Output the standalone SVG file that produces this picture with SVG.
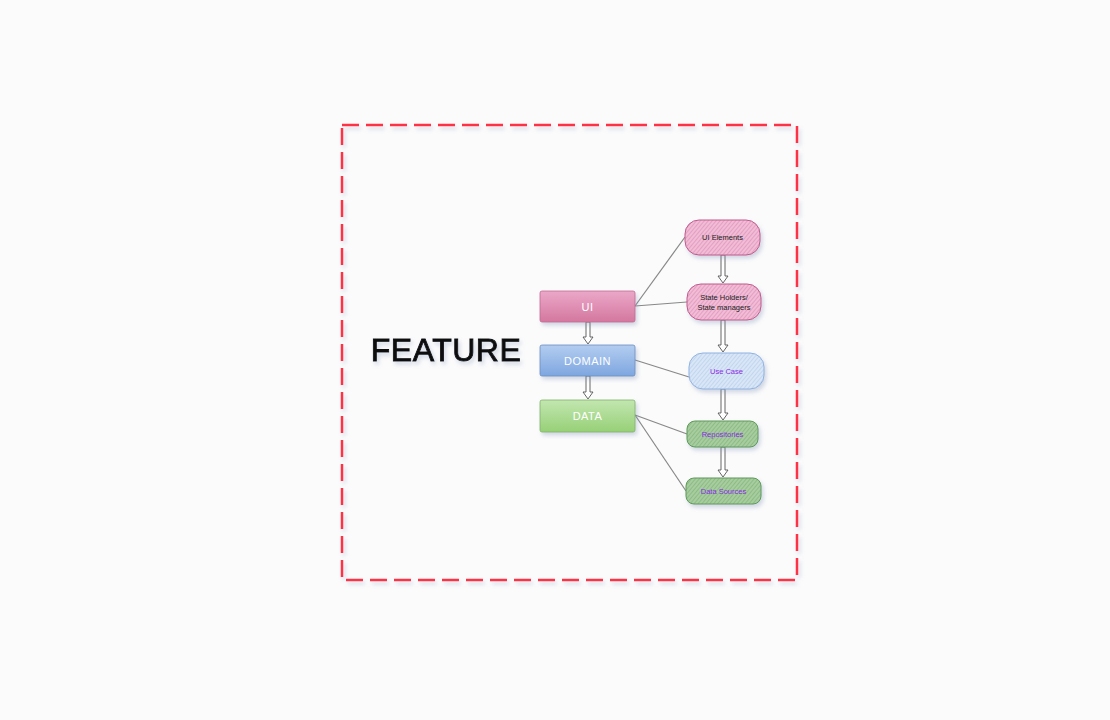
<svg xmlns="http://www.w3.org/2000/svg" width="1110" height="720" viewBox="0 0 1110 720">
<defs>
<style>
.lbl{font-family:"Liberation Sans",Arial,sans-serif;text-anchor:middle;dominant-baseline:central}
.wt{fill:#ffffff;font-size:11px;letter-spacing:0.5px}
.sm{font-size:7.5px}
.conn{stroke:#888;stroke-width:1.2;fill:none}
.barrow{fill:#ffffff;stroke:#555;stroke-width:0.9}
</style>
<filter id="sh" x="-20%" y="-20%" width="150%" height="160%">
<feDropShadow dx="2" dy="3" stdDeviation="2" flood-color="#8090b0" flood-opacity="0.35"/>
</filter>
<linearGradient id="gPink" x1="0" y1="0" x2="0" y2="1"><stop offset="0" stop-color="#eba8c8"/><stop offset="1" stop-color="#d4779f"/></linearGradient>
<linearGradient id="gBlue" x1="0" y1="0" x2="0" y2="1"><stop offset="0" stop-color="#b3cdf0"/><stop offset="1" stop-color="#7ea6e0"/></linearGradient>
<linearGradient id="gGreen" x1="0" y1="0" x2="0" y2="1"><stop offset="0" stop-color="#c2e6b0"/><stop offset="1" stop-color="#97d077"/></linearGradient>
<pattern id="hPink" width="3" height="3" patternUnits="userSpaceOnUse" patternTransform="rotate(40)"><rect width="3" height="3" fill="#f0bcd6"/><line x1="0" y1="0" x2="0" y2="3" stroke="#dc85b0" stroke-width="1.1"/></pattern>
<pattern id="hBlue" width="3" height="3" patternUnits="userSpaceOnUse" patternTransform="rotate(40)"><rect width="3" height="3" fill="#d9e6f6"/><line x1="0" y1="0" x2="0" y2="3" stroke="#b0c9ea" stroke-width="1.1"/></pattern>
<pattern id="hGreen" width="3" height="3" patternUnits="userSpaceOnUse" patternTransform="rotate(40)"><rect width="3" height="3" fill="#a6cd9e"/><line x1="0" y1="0" x2="0" y2="3" stroke="#7cab74" stroke-width="1.1"/></pattern>
</defs>
<rect width="1110" height="720" fill="#fbfbfc"/>

<g id="frame" filter="url(#sh)">
<rect x="342" y="125" width="455" height="455" fill="none" stroke="#ff3344" stroke-width="2.5" stroke-dasharray="17 7"/>
</g>

<g id="feature-title">
<text x="446" y="350" class="lbl" style="font-size:32px;letter-spacing:0.5px" fill="#111" stroke="#111" stroke-width="0.9" filter="url(#sh)">FEATURE</text>
</g>

<g id="connectors">
<path class="conn" d="M635 306 L685 237"/>
<path class="conn" d="M635 306 L687 302"/>
<path class="conn" d="M635 360 L689 377"/>
<path class="conn" d="M635 415 L687 434"/>
<path class="conn" d="M635 415 L686 491"/>
<path class="barrow" d="M586 322 h4 v15 h3 l-5 7 l-5 -7 h3 z"/>
<path class="barrow" d="M586 376 h4 v16 h3 l-5 7 l-5 -7 h3 z"/>
<path class="barrow" d="M721 255 h4 v21 h3 l-5 7 l-5 -7 h3 z"/>
<path class="barrow" d="M721 320 h4 v25 h3 l-5 7 l-5 -7 h3 z"/>
<path class="barrow" d="M721 389 h4 v24 h3 l-5 7 l-5 -7 h3 z"/>
<path class="barrow" d="M721 447 h4 v23 h3 l-5 7 l-5 -7 h3 z"/>
</g>

<g id="ui">
<rect x="540" y="291" width="95" height="31" rx="2" fill="url(#gPink)" stroke="#c26a92" stroke-width="0.8" filter="url(#sh)"/>
<text x="587.5" y="306.5" class="lbl wt">UI</text>
</g>
<g id="domain">
<rect x="540" y="345" width="95" height="31" rx="2" fill="url(#gBlue)" stroke="#6c8ebf" stroke-width="0.8" filter="url(#sh)"/>
<text x="587.5" y="360.5" class="lbl wt">DOMAIN</text>
</g>
<g id="data">
<rect x="540" y="400" width="95" height="32" rx="2" fill="url(#gGreen)" stroke="#82b366" stroke-width="0.8" filter="url(#sh)"/>
<text x="587.5" y="416" class="lbl wt">DATA</text>
</g>

<g id="ui-elements">
<rect x="685" y="220" width="75" height="35" rx="14" fill="url(#hPink)" stroke="#c05a8c" stroke-width="1" filter="url(#sh)"/>
<text x="722.5" y="237.5" class="lbl sm" fill="#222">UI Elements</text>
</g>
<g id="state-holders">
<rect x="687" y="284" width="74" height="36" rx="14" fill="url(#hPink)" stroke="#c05a8c" stroke-width="1" filter="url(#sh)"/>
<text x="724" y="297" class="lbl sm" fill="#222">State Holders/</text>
<text x="724" y="307" class="lbl sm" fill="#222">State managers</text>
</g>
<g id="use-case">
<rect x="689" y="353" width="75" height="36" rx="14" fill="url(#hBlue)" stroke="#8fb2e2" stroke-width="1" filter="url(#sh)"/>
<text x="726.5" y="371" class="lbl sm" fill="#8a2be2">Use Case</text>
</g>
<g id="repositories">
<rect x="687" y="421" width="71" height="26" rx="8" fill="url(#hGreen)" stroke="#5e9a58" stroke-width="1" filter="url(#sh)"/>
<text x="722.5" y="434" class="lbl sm" fill="#8a2be2">Repositories</text>
</g>
<g id="data-sources">
<rect x="686" y="478" width="75" height="26" rx="8" fill="url(#hGreen)" stroke="#5e9a58" stroke-width="1" filter="url(#sh)"/>
<text x="723.5" y="491" class="lbl sm" fill="#8a2be2">Data Sources</text>
</g>
</svg>
